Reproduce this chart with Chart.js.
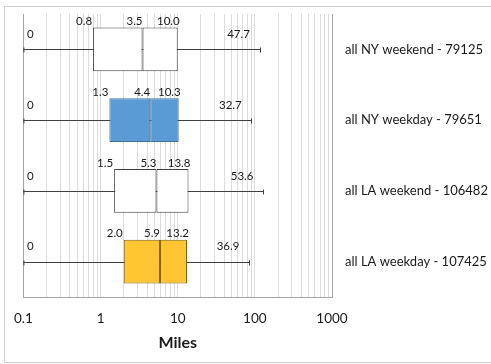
<!DOCTYPE html>
<html>
<head>
<meta charset="utf-8">
<script src="https://cdn.jsdelivr.net/npm/chart.js@4"></script>
<style>
  body { margin: 0; background: #fff; }
  #wrap { position: relative; width: 491px; height: 364px; overflow: hidden; }
  #frame { position: absolute; left: 4px; top: 6px; width: 600px; height: 355px; border: 1px solid #d0d0d0; pointer-events: none; }
  canvas { position: absolute; left: 0; top: 0; }
</style>
</head>
<body>
<div id="wrap">
  <canvas id="chart" width="491" height="364"></canvas>
  <div id="frame"></div>
</div>
<script>
const categories = ['all NY weekend - 79125', 'all NY weekday - 79651', 'all LA weekend - 106482', 'all LA weekday - 107425'];
const minVals = [0, 0, 0, 0];
const q1Vals = [0.8, 1.3, 1.5, 2.0];
const medVals = [3.5, 4.4, 5.3, 5.9];
const q3Vals = [10.0, 10.3, 13.8, 13.2];
const maxLabels = [47.7, 32.7, 53.6, 36.9];
const whiskerEnds = [115, 90, 128, 84];
const majorTicks = [0.1, 1, 10, 100, 1000];

const fills = ['#ffffff', '#5b9bd5', '#ffffff', '#ffc533'];
const edges = ['#404040', '#41719c', '#404040', '#7f6000'];
const FONT = 'Lato, "Liberation Sans", sans-serif';

// minor ticks 1..9 per decade for the grid
const tickValues = [];
for (let d = 0; d < majorTicks.length - 1; d++) {
  for (let m = 1; m <= 9; m++) tickValues.push(parseFloat((m * majorTicks[d]).toFixed(1)));
}
tickValues.push(majorTicks[majorTicks.length - 1]);

const whiskers = {
  id: 'whiskers',
  beforeDatasetsDraw(chart) {
    const { ctx, scales: { x, y } } = chart;
    ctx.save();
    ctx.strokeStyle = '#404040';
    ctx.lineWidth = 1;
    categories.forEach((c, i) => {
      const cy = Math.round(y.getPixelForValue(i)) + 0.5;
      const x0 = x.getPixelForValue(Math.max(minVals[i], x.min));
      const x1 = Math.round(x.getPixelForValue(whiskerEnds[i])) + 0.5;
      ctx.beginPath();
      ctx.moveTo(x0, cy); ctx.lineTo(x1, cy);
      ctx.moveTo(x1, cy - 2); ctx.lineTo(x1, cy + 3);
      ctx.moveTo(x0 + 0.5, cy - 2); ctx.lineTo(x0 + 0.5, cy + 3);
      ctx.stroke();
    });
    ctx.restore();
  }
};

const boxLabels = {
  id: 'boxLabels',
  afterDatasetsDraw(chart) {
    const { ctx, scales: { x, y } } = chart;
    const meta = chart.getDatasetMeta(0);
    ctx.save();
    ctx.fillStyle = '#1a1a1a';
    ctx.font = '11.5px ' + FONT;
    ctx.textBaseline = 'middle';
    categories.forEach((c, i) => {
      const cy = y.getPixelForValue(i);
      const el = meta.data[i];
      const top = el.y - el.height / 2;
      ctx.textAlign = 'right';
      ctx.fillText(q1Vals[i].toFixed(1), x.getPixelForValue(q1Vals[i]) - 1, top - 6);
      ctx.fillText(medVals[i].toFixed(1), x.getPixelForValue(medVals[i]), top - 6);
      ctx.fillText(q3Vals[i].toFixed(1), x.getPixelForValue(q3Vals[i]) + 2, top - 6);
      ctx.textAlign = 'center';
      ctx.fillText(String(minVals[i]), x.left + 7, cy - 15);
      ctx.fillText(maxLabels[i].toFixed(1), x.getPixelForValue(whiskerEnds[i]) - 21, cy - 15);
    });
    ctx.restore();
  }
};

new Chart(document.getElementById('chart'), {
  type: 'bar',
  data: {
    labels: categories,
    datasets: [
      {
        data: categories.map((c, i) => [q1Vals[i], medVals[i]]),
        backgroundColor: fills,
        borderColor: edges,
        borderWidth: 1,
        borderSkipped: false,
        grouped: false,
        categoryPercentage: 1,
        barPercentage: 0.62
      },
      {
        data: categories.map((c, i) => [medVals[i], q3Vals[i]]),
        backgroundColor: fills,
        borderColor: edges,
        borderWidth: 1,
        borderSkipped: false,
        grouped: false,
        categoryPercentage: 1,
        barPercentage: 0.62
      }
    ]
  },
  options: {
    indexAxis: 'y',
    responsive: false,
    animation: false,
    layout: { padding: { left: 21, top: 14, right: 0, bottom: 0 } },
    plugins: { legend: { display: false }, tooltip: { enabled: false } },
    scales: {
      x: {
        type: 'logarithmic',
        min: 0.1,
        max: 1000,
        afterBuildTicks: (scale) => {
          scale.ticks = tickValues.map(v => ({ value: v, major: majorTicks.includes(v) }));
        },
        afterFit: (scale) => { scale.height = 67; },
        grid: {
          drawTicks: false,
          color: (ctx) => (ctx.tick && (ctx.tick.value === 0.1 || ctx.tick.value === 1000)) ? '#a6a6a6' : '#dcdcdc'
        },
        border: { display: true, color: '#a6a6a6' },
        ticks: {
          autoSkip: false,
          maxRotation: 0,
          padding: 14,
          color: '#1a1a1a',
          font: { family: FONT, size: 13.5 },
          callback: (v) => majorTicks.includes(v) ? String(v) : ''
        },
        title: {
          display: true,
          text: 'Miles',
          color: '#1a1a1a',
          font: { family: FONT, size: 16, weight: 'bold' },
          padding: { top: 0, bottom: 12 }
        }
      },
      y: {
        type: 'category',
        position: 'right',
        afterFit: (scale) => { scale.width = 159; },
        grid: { display: false },
        border: { display: false },
        ticks: {
          padding: 5,
          color: '#1a1a1a',
          font: { family: FONT, size: 13 }
        }
      }
    }
  },
  plugins: [whiskers, boxLabels]
});
</script>
</body>
</html>
